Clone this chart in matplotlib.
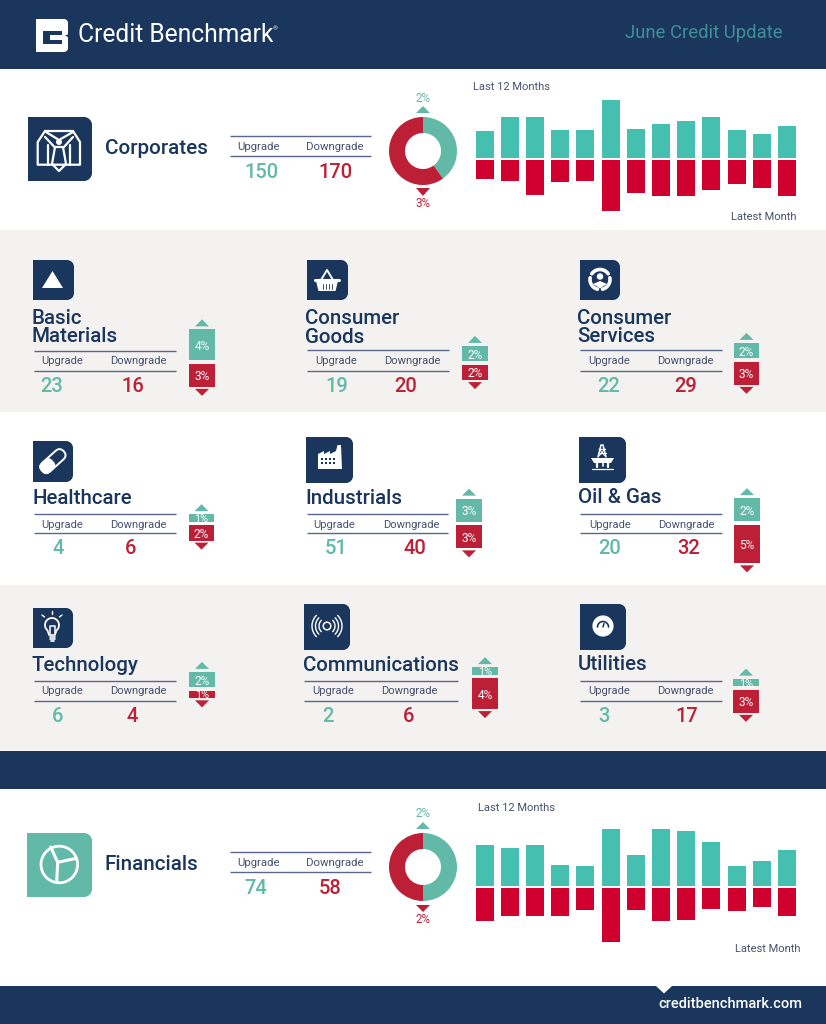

import numpy as np
import matplotlib
matplotlib.use("Agg")
import matplotlib.pyplot as plt
from matplotlib.patches import Rectangle, PathPatch, Polygon, Circle, FancyBboxPatch
from matplotlib.path import Path
from matplotlib.transforms import Affine2D

W, H = 826, 1024
NAVY = "#1a365d"; GREY = "#f3f2f0"; TEAL = "#62b9a8"; RED = "#bd1f36"
BTEAL = "#45bfb0"; BRED = "#d0002e"; TXT = "#46516f"; HDR = "#3e8f96"
FONT = "Roboto"

# ---- data ----
corp_up = [27, 41, 41, 28, 28, 58, 29, 34, 37, 41, 28, 24, 32]
corp_down = [19, 21, 35, 22, 21, 51, 33, 36, 36, 30, 24, 28, 36]
fin_up = [41, 38, 41, 21, 20, 57, 31, 57, 55, 44, 20, 25, 36]
fin_down = [33, 28, 28, 28, 22, 54, 22, 33, 32, 21, 23, 19, 28]
corp_share = [2, 3]
fin_share = [2, 2]
sectors = ["Basic\nMaterials", "Consumer\nGoods", "Consumer\nServices", "Healthcare", "Industrials",
           "Oil & Gas", "Technology", "Communications", "Utilities"]
upgrades = [23, 19, 22, 4, 51, 20, 6, 2, 3]
downgrades = [16, 20, 29, 6, 40, 32, 4, 6, 17]
up_bars = [4, 2, 2, 1, 3, 3, 2, 1, 1]
down_bars = [3, 2, 3, 2, 3, 5, 1, 4, 3]
up_labels = ["4%", "2%", "2%", "1%", "3%", "2%", "2%", "1%", "1%"]
down_labels = ["3%", "2%", "3%", "2%", "3%", "5%", "1%", "4%", "3%"]

# ---- layout (pixels) ----
# title left, title y(s), line x0, x1, line y0, y1, up-label x, down-label x, label y, up-val x, down-val x, val y
layout = [
    (31.5, (318, 336), 34, 176, 351, 371, 62, 138, 361, 52, 133, 385),
    (304.5, (318, 337), 307, 449, 350, 371, 336, 412, 361, 337, 406, 385),
    (577.5, (318, 336), 580, 722, 350, 371, 609, 685, 361, 609, 686, 385),
    (32, (498,), 34, 176, 514, 533, 62, 138, 524, 58, 131, 548),
    (305.5, (498,), 307, 448, 514, 533, 334, 411, 524, 336, 415, 548),
    (577.5, (497,), 580, 722, 514, 533, 610, 686, 524, 610, 689, 548),
    (31.5, (665,), 34, 176, 681, 701, 62, 138, 691, 58, 132, 715),
    (302.5, (665,), 304, 458, 681, 701, 333, 409, 691, 328, 409, 715),
    (577.5, (664,), 580, 722, 681, 701, 609, 685, 691, 604, 687, 715),
]
gauge_x = [(189, 215), (462, 488), (734, 759), (189, 214), (456, 482), (734, 760), (189, 215), (472, 498), (733, 759)]
gauge_mid = [362, 363, 360, 523.5, 523.5, 523, 689, 676.5, 688]
icons = [(33, 260, 74, 300), (307, 260, 348, 300), (580, 260, 620, 300), (33, 441, 73, 482), (306, 437, 353, 483),
         (579, 437, 626, 483), (33, 608, 73, 648), (304, 604, 350, 650), (580, 604, 626, 650)]

fig = plt.figure(figsize=(W / 100, H / 100), dpi=100)
bg = fig.add_axes([0, 0, 1, 1]); bg.set_xlim(0, W); bg.set_ylim(H, 0); bg.axis("off")

def rect(x0, y0, x1, y1, c, z=1, **k):
    bg.add_patch(Rectangle((x0, y0), x1 - x0, y1 - y0, fc=c, ec="none", zorder=z, **k))

for y0, y1, c in [(0, 69, NAVY), (230, 412, GREY), (585, 751, GREY), (751, 789, NAVY), (986, 1024, NAVY)]:
    rect(0, y0, W, y1, c)

def T(x, y, s, size, c=TXT, ha="center", weight="normal", **k):
    return bg.text(x, y + 1, s, fontsize=size, color=c, ha=ha, va="center", family=FONT, weight=weight, zorder=6, **k)

def box(x0, y0, x1, y1, c, r=7):
    k = 0.45 * r
    v = [(x0, y0), (x1 - r, y0), (x1 - k, y0), (x1, y0 + k), (x1, y0 + r), (x1, y1 - r), (x1, y1 - k), (x1 - k, y1),
         (x1 - r, y1), (x0, y1), (x0, y0)]
    co = [Path.MOVETO, Path.LINETO, Path.CURVE4, Path.CURVE4, Path.CURVE4, Path.LINETO, Path.CURVE4, Path.CURVE4,
          Path.CURVE4, Path.LINETO, Path.CLOSEPOLY]
    bg.add_patch(PathPatch(Path(v, co), fc=c, ec="none", zorder=2))

def wl(xs, ys, lw=1.4, c="white"):
    bg.plot(xs, ys, color=c, lw=lw, zorder=4, solid_capstyle="round", solid_joinstyle="round")

def rule(x0, x1, y):
    bg.plot([x0, x1], [y, y], color="#5b678a", lw=1.0, zorder=3, solid_capstyle="butt")

def poly(pts, c="white", z=4):
    bg.add_patch(Polygon(pts, closed=True, fc=c, ec="none", zorder=z))

def arc(cx, cy, r, a0, a1, lw=1.4, c="white"):
    t = np.radians(np.linspace(a0, a1, 40))
    wl(cx + r * np.cos(t), cy - r * np.sin(t), lw, c)

# ---- header/footer ----
T(78, 34.5, "Credit Benchmark", 17.7, "white", ha="left")
T(272.5, 28, "®", 4.5, "white", ha="left")
T(704, 32.5, "June Credit Update", 13.3, HDR)
box(36, 19, 68, 52, "white", 4)
poly([(43, 31), (62, 31), (62, 35), (50, 35), (50, 40), (62, 40), (62, 44), (43, 44)], NAVY)
poly([(69, 34), (65, 35.5), (69, 37.5)], NAVY)
poly([(656, 986), (672, 986), (664, 993.5)], "white", 3)
T(730.5, 1002.5, "creditbenchmark.com", 10.5, "white", weight="medium")

# ---- summary rows ----
def summary(name, nx, ny, up, down, ux, dx, vy, ly0, ly1, ly, share, cy, ty, by, a_up, a_dn, ups, downs, bx0, base, lab1, lab2):
    T(nx, ny, name, 14.9, NAVY, ha="left", weight="medium")
    rule(230, 371, ly0); rule(230, 371, ly1)
    T(258, ly, "Upgrade", 8.2); T(334.5, ly, "Downgrade", 8.2)
    T(ux, vy, str(up), 14.5, TEAL, weight="medium"); T(dx, vy, str(down), 14.5, RED, weight="medium")
    # donut
    size = 80
    ax = fig.add_axes([(423 - size / 2) / W, 1 - (cy + size / 2) / H, size / W, size / H])
    ax.pie(share, colors=[TEAL, RED], startangle=90, counterclock=False, radius=34 / (size / 2),
           wedgeprops=dict(width=16 / (size / 2), edgecolor="none"))
    ax.set_xlim(-1, 1); ax.set_ylim(-1, 1); ax.set_aspect("auto")
    ax.axis("off")
    T(423, ty, f"{share[0]}%", 8.4, TEAL); T(423, by, f"{share[1]}%", 8.4, RED)
    poly([(416, a_up[1]), (430, a_up[1]), (423, a_up[0])], TEAL)
    poly([(416, a_dn[0]), (430, a_dn[0]), (423, a_dn[1])], RED)
    # bars
    n = len(ups)
    bw, step = 18, 25.2
    ax = fig.add_axes([bx0 / W, 1 - (base + 70) / H, (step * n) / W, 140 / H])
    x = np.arange(n)
    gap = 0.7
    ax.bar(x, ups, width=bw / step, bottom=gap, color=BTEAL)
    ax.bar(x, [-d for d in downs], width=bw / step, bottom=-gap, color=BRED)
    ax.set_xlim(-0.5, n - 0.5); ax.set_ylim(-70, 70); ax.axis("off")
    T(*lab1, "Last 12 Months", 8.0); T(*lab2, "Latest Month", 8.0)

summary("Corporates", 105, 147.5, 150, 170, 261, 335, 171, 136, 156, 146.5, corp_share, 151, 97.5, 202.5,
        (106, 113), (188, 196), corp_up, corp_down, 472, 159, (511.5, 85.5), (764, 216))
summary("Financials", 105, 863.5, 74, 58, 255.5, 330, 887, 852, 872, 862.5, fin_share, 867, 812.5, 918.5,
        (822, 829), (905, 912), fin_up, fin_down, 472, 887, (516.5, 807), (768, 948.5))

# ---- sector panels ----
PX = 7.75  # pixels per percentage point on the small gauges
for i, name in enumerate(sectors):
    tl, tys, lx0, lx1, ly0, ly1, ulx, dlx, ly, uvx, dvx, vy = layout[i]
    for line, ty in zip(name.split("\n"), tys):
        T(tl, ty - 0.5, line, 14.8, NAVY, ha="left", weight="medium")
    rule(lx0, lx1, ly0); rule(lx0, lx1, ly1)
    T(ulx, ly - 0.5, "Upgrade", 8.0); T(dlx, ly - 0.5, "Downgrade", 8.0)
    T(uvx, vy, str(upgrades[i]), 14.5, TEAL, weight="medium")
    T(dvx, vy, str(downgrades[i]), 14.5, RED, weight="medium")
    # gauge
    x0, x1 = gauge_x[i]; m = gauge_mid[i]; hh = 60
    ax = fig.add_axes([x0 / W, 1 - (m + hh) / H, (x1 - x0) / W, 2 * hh / H])
    g = 1.6 / PX
    ax.bar([0], [up_bars[i]], width=1, bottom=g, color=TEAL)
    ax.bar([0], [-down_bars[i]], width=1, bottom=-g, color=RED)
    ax.set_xlim(-0.5, 0.5); ax.set_ylim(-hh / PX, hh / PX); ax.axis("off")
    ax.patch.set_alpha(0)
    u, d = up_bars[i], down_bars[i]
    uy = u * PX + 1.6; dy = d * PX + 1.6
    ax.text(0, g + u / 2, up_labels[i], color="white", ha="center", va="center_baseline",
            fontsize=7.8 if u == 1 else 8.6, family=FONT)
    ax.text(0, -g - d / 2, down_labels[i], color="white", ha="center", va="center_baseline",
            fontsize=7.8 if d == 1 else 8.6, family=FONT)
    cx = (x0 + x1) / 2
    poly([(cx - 7, m - uy - 3), (cx + 7, m - uy - 3), (cx, m - uy - 10)], TEAL)
    poly([(cx - 7, m + dy + 2), (cx + 7, m + dy + 2), (cx, m + dy + 9)], RED)
    box(*icons[i], NAVY, 7)

# ---- icons ----
box(28, 117, 92, 181, NAVY, 8)
box(27, 833, 92, 897, TEAL, 8)
# triangle
poly([(42, 288), (63, 288), (52.5, 271)])
# basket
poly([(316, 281), (338, 281), (335.5, 291), (318.5, 291)])
wl([315, 339], [280, 280], 2.2)
wl([321, 327, 333], [280, 270, 280], 1.4)
for xx in (323, 326, 329, 332):
    wl([xx, xx], [284, 289], 0.6, NAVY)
# consumer services
for a0, a1 in [(35, 145), (170, 255), (285, 370)]:
    arc(600, 279.5, 10, a0, a1, 2.6)
bg.add_patch(Circle((600, 276.5), 3.2, fc="white", ec="none", zorder=4))
poly([(593, 284), (600, 281), (607, 284), (600, 288.5)])
# pill
tr = Affine2D().rotate_deg(-42).translate(53, 461) + bg.transData
bg.add_patch(FancyBboxPatch((-14.5, -5.8), 29, 11.6, boxstyle="round,pad=0,rounding_size=5.8", fc=NAVY, ec="white", lw=1.4,
                            transform=tr, zorder=4))
bg.add_patch(FancyBboxPatch((-15.5, -6.5), 15.5, 13, boxstyle="round,pad=0,rounding_size=5.5", fc="white", ec="none",
                            transform=tr, zorder=5))
# factory
poly([(318, 469), (318, 454), (324, 451), (324, 454), (330, 451), (330, 454), (336, 451), (337.5, 445), (341, 445), (342, 469)])
for yy in (458, 462):
    for xx in (321, 325, 329, 333):
        rect(xx, yy, xx + 2, yy + 2.3, NAVY, 5)
# rig
wl([598, 601, 603, 606], [457, 445, 445, 457], 1.1)
wl([599, 605], [449, 449], 0.9); wl([598.5, 605.5], [453, 453], 0.9)
wl([599, 605], [456, 449], 0.7); wl([605, 599], [456, 449], 0.7)
poly([(591, 458), (614, 458), (611, 463), (594, 463)])
wl([597, 597], [463, 467], 1.6); wl([608, 608], [463, 467], 1.6); wl([602.5, 602.5], [463, 466], 1.2)
wl([592, 613], [469, 469], 0.9)
# bulb
arc(52, 625, 7, -50, 230, 1.3)
wl([47.5, 49, 55, 56.5], [630.5, 635, 635, 630.5], 1.2)
wl([49.5, 54.5], [637, 637], 1.2); wl([49.5, 54.5], [639, 639], 1.2); wl([50.5, 53.5], [641, 641], 1.2)
wl([49.5, 49.5, 54.5, 54.5], [634, 626, 626, 634], 1.1)
wl([52, 52], [611, 614], 1.0); wl([42, 44.5], [615, 617], 1.0); wl([62, 59.5], [615, 617], 1.0)
# communications
bg.add_patch(Circle((327, 626), 3.8, fc="none", ec="white", lw=1.1, zorder=4))
for r in (8, 11.5, 15):
    arc(327, 626, r, -45, 45, 1.0); arc(327, 626, r, 135, 225, 1.0)
# utilities
bg.add_patch(Circle((603, 626), 10.6, fc="white", ec="none", zorder=3))
arc(603, 627, 5.5, 0, 180, 1.2, NAVY)
wl([603, 604], [627, 623.5], 1.1, NAVY)
for xx in (600.5, 603, 605.5):
    wl([xx, xx + 0.3], [631, 631], 1.3, NAVY)
# corporates shirt
LW = 1.6
wl([45, 37.7, 37.7, 80, 80, 73, 45], [131, 142, 164.7, 164.7, 142, 131, 131], LW)
wl([46, 59, 73], [132, 140, 132], LW)
wl([45, 54.5], [137, 147], LW); wl([73, 64], [137, 147], LW)
wl([48, 48], [145, 164.7], LW); wl([70, 70], [145, 164.7], LW)
wl([55, 52, 59, 66, 63, 55], [147, 164, 171, 164, 147, 147], LW)
bg.add_patch(Circle((59, 142), 3, fc="white", ec="none", zorder=4))
# financials
bg.add_patch(Circle((59.3, 864.5), 18.3, fc="none", ec="white", lw=2.0, zorder=4))
wl([57.7, 50.7], [862.3, 847], 2.2); wl([57.7, 76.5], [862.3, 858.3], 2.2); wl([57.7, 56.7], [862.3, 881.5], 2.2)

fig.savefig("out.png", dpi=100)
